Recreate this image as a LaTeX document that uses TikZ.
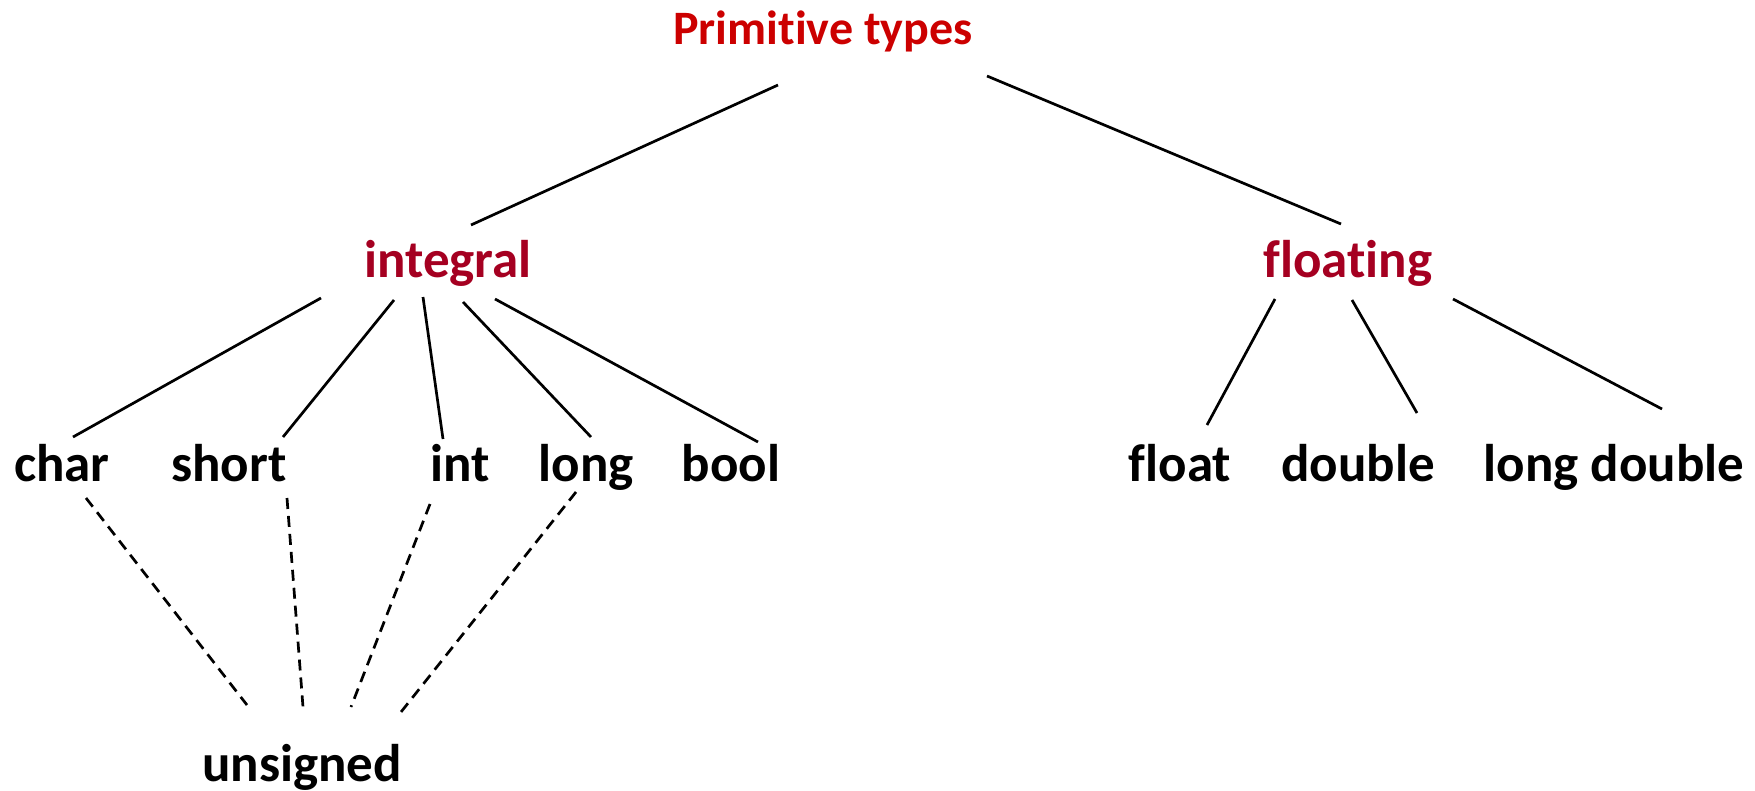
\documentclass[tikz,border=0pt]{standalone}
\usepackage{fontspec}
\setmainfont{Carlito}[Ligatures={NoCommon}]
\usetikzlibrary{calc}
\definecolor{titlered}{RGB}{204,0,0}
\definecolor{groupred}{RGB}{165,0,33}
\begin{document}
\begin{tikzpicture}[x=0.5pt,y=-0.5pt,
  lbl/.style={anchor=base,inner sep=0pt,font=\fontsize{26.5}{30}\selectfont\bfseries},
  title/.style={lbl,text=titlered,font=\fontsize{24}{28}\selectfont\bfseries},
  group/.style={lbl,text=groupred},
  edge/.style={line width=1.35pt},
  optedge/.style={edge,dash pattern=on 5.5pt off 3.5pt}]
\useasboundingbox (0,0) rectangle (1755,791);

% labels
\node[title] (prim) at (823,45) {Primitive types};
\node[group] (integral) at (448,278) {integral};
\node[group] (floating) at (1348,278) {floating};
\node[lbl] (char) at (62,481) {char};
\node[lbl] (short) at (229,481) {short};
\node[lbl] (int) at (460,481) {int};
\node[lbl] (long) at (586,481) {long};
\node[lbl] (bool) at (731,481) {bool};
\node[lbl] (float) at (1180,481) {float};
\node[lbl] (double) at (1358,481) {double};
\node[lbl] (longdouble) at (1614,481) {long double};
\node[lbl] (unsigned) at (302,781) {unsigned};

% top level
\draw[edge] ($(prim.base)+(-45,40)$) -- ($(integral.base)+(23,-53)$);
\draw[edge] ($(prim.base)+(164,31)$) -- ($(floating.base)+(-7,-54)$);

% integral types
\draw[edge] ($(integral.base)+(-127,20)$) -- ($(char.base)+(11,-44)$);
\draw[edge] ($(integral.base)+(-54,22)$) -- ($(short.base)+(54,-44)$);
\draw[edge] ($(integral.base)+(-25,19)$) -- ($(int.base)+(-17,-42)$);
\draw[edge] ($(integral.base)+(15,24)$) -- ($(long.base)+(5,-44)$);
\draw[edge] ($(integral.base)+(47,21)$) -- ($(bool.base)+(27,-39)$);

% floating types
\draw[edge] ($(floating.base)+(-73,21)$) -- ($(float.base)+(27,-56)$);
\draw[edge] ($(floating.base)+(4,22)$) -- ($(double.base)+(59,-68)$);
\draw[edge] ($(floating.base)+(105,21)$) -- ($(longdouble.base)+(48,-72)$);

% unsigned variants
\draw[optedge] ($(char.base)+(24,17)$) -- ($(unsigned.base)+(-55,-76)$);
\draw[optedge] ($(short.base)+(58,17)$) -- ($(unsigned.base)+(1,-74)$);
\draw[optedge] ($(int.base)+(-30,23)$) -- ($(unsigned.base)+(49,-74)$);
\draw[optedge] ($(long.base)+(-10,11)$) -- ($(unsigned.base)+(99,-69)$);
\end{tikzpicture}
\end{document}
